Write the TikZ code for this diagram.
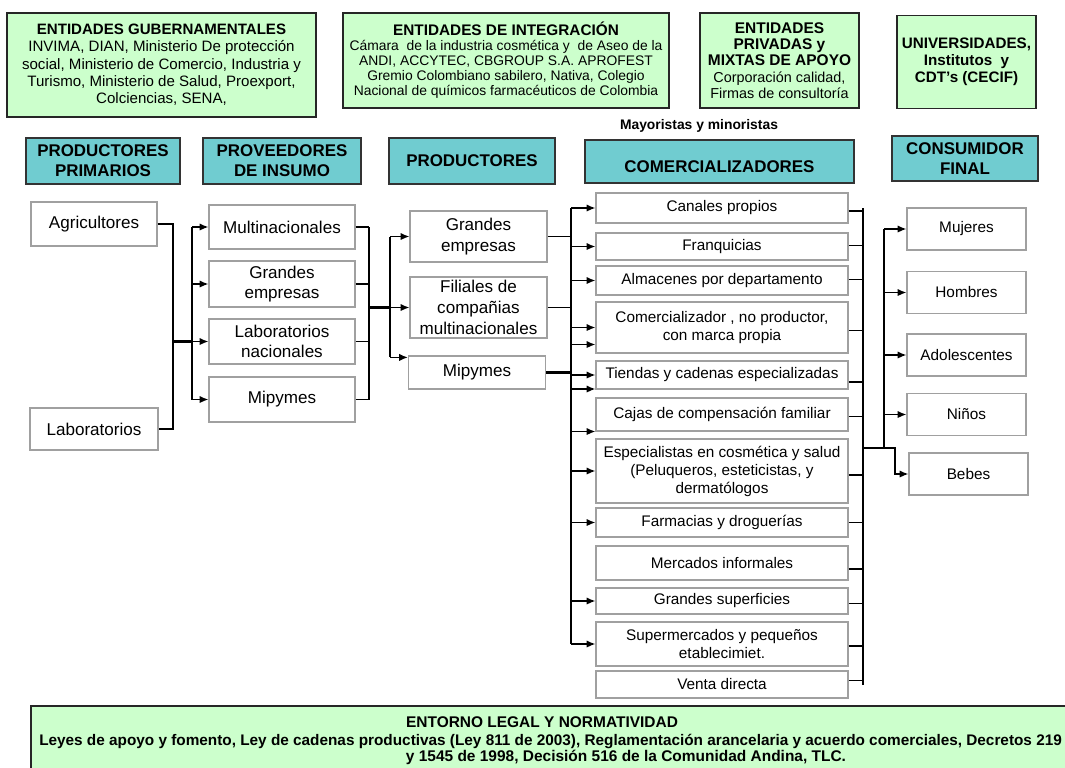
\documentclass[tikz,border=0pt]{standalone}
\usepackage{fontspec}
\setmainfont{Liberation Sans}
\usetikzlibrary{positioning,calc,arrows.meta}
\definecolor{mintgreen}{RGB}{204,255,204}
\definecolor{stagecyan}{RGB}{112,204,208}
\definecolor{boxgrey}{RGB}{160,160,160}
\tikzset{%
  every box/.style={
    draw=boxgrey,
    line width=0.9pt,
    fill=white,
    align=center,
    inner sep=0pt
  },
  boxsize/.style 2 args={
    minimum width=#1*0.75pt,
    minimum height=#2*0.75pt
  },
  entity/.style={
    every box,
    draw=black!85,
    fill=mintgreen,
    line width=1.1pt
  },
  stage/.style={
    every box,
    draw=black!80,
    fill=stagecyan,
    line width=1.5pt,
    font=\fontsize{12.7}{15}\selectfont\bfseries
  },
  actor/.style={every box, font=\fontsize{12.8}{15.5}\selectfont},
  channel/.style={every box, font=\fontsize{11.5}{13.5}\selectfont},
  link/.style={line width=1.1pt},
  thick link/.style={line width=2.2pt},
}

\begin{document}
\begin{tikzpicture}[x=0.75pt, y=-0.75pt, >={Latex[length=6.5pt,width=5.5pt]}]
  \useasboundingbox (0,0) rectangle (1065,768);
  \clip (0,0) rectangle (1065,768);
  \fill[white] (0,0) rectangle (1065,768);

  % entidades de apoyo
  \node[entity, boxsize={309}{104}, font=\fontsize{11.3}{13}\selectfont] (ent-1) at (161.5,65)
    {\textbf{ENTIDADES GUBERNAMENTALES}\\INVIMA, DIAN, Ministerio De protección\\social, Ministerio de Comercio, Industria y\\Turismo, Ministerio de Salud, Proexport,\\Colciencias, SENA,};
  \node[entity, boxsize={326}{95}, font=\fontsize{10.4}{11.2}\selectfont] (ent-2) at (506,60.5)
    {{\fontsize{11.5}{11.2}\selectfont\bfseries ENTIDADES DE INTEGRACIÓN}\\Cámara\ \ de la industria cosmética y\ \ de Aseo de la\\ANDI, ACCYTEC, CBGROUP S.A. APROFEST\\Gremio Colombiano sabilero, Nativa, Colegio\\Nacional de químicos farmacéuticos de Colombia};
  \node[entity, boxsize={159}{95}, font=\fontsize{10.8}{12.3}\selectfont] (ent-3) at (779.5,60.5)
    {{\fontsize{11.6}{12.3}\selectfont\bfseries ENTIDADES}\\{\fontsize{11.6}{12.3}\selectfont\bfseries PRIVADAS y}\\{\fontsize{11.6}{12.3}\selectfont\bfseries MIXTAS DE APOYO}\\Corporación calidad,\\Firmas de consultoría};
  \node[entity, boxsize={139}{93}, font=\fontsize{11.4}{12.8}\selectfont\bfseries] (ent-4) at (966.5,62)
    {UNIVERSIDADES,\\Institutos\ \ y\\CDT’s (CECIF)};

  % etapas de la cadena
  \foreach \x/\w/\y/\h/\txt [count=\i] in {103/154/161/46/{PRODUCTORES\\PRIMARIOS},
      282/158/161/46/{PROVEEDORES\\DE INSUMO}, 472/166/161/46/PRODUCTORES,
      719.5/269/161.5/43/{}, 965/146/158.5/45/{CONSUMIDOR\\FINAL}}
    \node[stage, boxsize={\w}{\h}] (head-\i) at (\x,\y) {\txt};
  \node[font=\fontsize{12.7}{15}\selectfont\bfseries] (head-4-text) at (719.5,167) {COMERCIALIZADORES};
  \node[font=\fontsize{10.4}{12}\selectfont\bfseries] (mayor) at (699,126) {Mayoristas y minoristas};

  % actores
  \node[actor, boxsize={126}{44}] (prim-1) at (94,224) {Agricultores};
  \node[actor, boxsize={128}{42}] (prim-2) at (94,429) {Laboratorios};
  \foreach \y/\h/\txt [count=\i] in {227/44/Multinacionales, 284/46/{Grandes\\empresas},
      341.5/45/{Laboratorios\\nacionales}, 399.5/45/Mipymes}
    \node[actor, boxsize={146}{\h}] (prov-\i) at (282,\y) {\txt};
  \foreach \x/\y/\h/\txt [count=\i] in {478.5/236.5/51/{Grandes\\empresas},
      478.5/307.5/61/{Filiales de\\compañias\\multinacionales}, 477/372.5/33/Mipymes}
    \node[actor, boxsize={137}{\h}] (prod-\i) at (\x,\y) {\txt};
  \foreach \y/\h/\txt [count=\i] in {208/30/Canales propios, 246.5/27/Franquicias,
      280.5/29/Almacenes por departamento,
      327.5/51/{Comercializador , no productor,\\con marca propia},
      375/28/Tiendas y cadenas especializadas, 414.5/33/Cajas de compensación familiar,
      471/64/{Especialistas en cosmética y salud\\(Peluqueros, esteticistas, y\\dermatólogos},
      522.5/29/Farmacias y droguerías, 563/34/Mercados informales,
      601/26/Grandes superficies, 644/44/{Supermercados y pequeños\\etablecimiet.},
      684.5/27/Venta directa}
    \node[channel, boxsize={252}{\h}] (com-\i) at (722,\y) {\txt};
  \foreach \y/\txt [count=\i] in {229/Mujeres, 292.5/Hombres, 355/Adolescentes, 414.5/Niños}
    \node[channel, boxsize={119}{42}] (cons-\i) at (966.5,\y) {\txt};
  \node[channel, boxsize={119}{42}] (cons-5) at (968.5,474) {Bebes};

  % buses
  \coordinate (bus1) at (173,0);
  \coordinate (bus2) at (192,0);
  \coordinate (bus3) at (369,0);
  \coordinate (bus4) at (390,0);
  \coordinate (bus5) at (571,0);
  \coordinate (bus6) at (863,0);
  \coordinate (hub) at (884,448);

  \draw[link] (prim-1.east) -| (bus1 |- prim-2) -- (prim-2.east);
  \draw[thick link] (bus1 |- prov-3) -- (bus2 |- prov-3);
  \draw[link] (bus2 |- prov-1) -- (bus2 |- prov-4);
  \foreach \i in {1,...,4}
    \draw[link, ->] (bus2 |- prov-\i) -- (prov-\i);

  \foreach \i in {1,...,4}
    \draw[link] (prov-\i.east) -- (bus3 |- prov-\i);
  \draw[link] (bus3 |- prov-1) -- (bus3 |- prov-4);
  \draw[thick link] (bus3 |- prod-2) -- (bus4 |- prod-2);
  \coordinate (p3) at ($(prod-3.north west)+(0,2)$);
  \draw[link] (bus4 |- prod-1) -- (bus4 |- p3);
  \draw[thick link] (bus4 |- prod-1.south) -- (bus4 |- prod-2);
  \foreach \i in {1,2}
    \draw[link, ->] (bus4 |- prod-\i) -- (prod-\i);
  \draw[link, ->] (bus4 |- p3) -- (p3);

  \draw[link] (prod-1.east) -- (bus5 |- prod-1);
  \draw[link] (prod-2.east) -- (bus5 |- prod-2);
  \draw[thick link] (prod-3.east) -- (bus5 |- prod-3);
  \draw[link] (bus5 |- com-1) -- (bus5 |- com-11);
  \draw[thick link] (bus5 |- com-5.north) -- (bus5 |- com-7);
  \foreach \i/\d in {1/0, 2/0, 3/0, 4/0, 4/17, 5/0, 5/14, 6/17, 7/0, 8/0, 10/0, 11/0} {
    \coordinate (tip) at ($(com-\i.west)+(0,\d)$);
    \draw[link, ->] (bus5 |- tip) -- (tip);
  }

  \foreach \i/\d/\lw in {1/3/1.1, 2/-1/1.1, 3/-1/1.1, 4/3/1.1, 5/7/1.1, 6/2/1.1, 7/4/1.1,
      8/0/1.1, 9/6/1.1, 10/2/0.5, 11/2/1.1, 12/-4/1.1} {
    \coordinate (tail) at ($(com-\i.east)+(0,\d)$);
    \draw[line width=\lw pt] (tail) -- (bus6 |- tail);
  }
  \draw[link] (bus6 |- com-1) -- (bus6 |- com-12);
  \draw[thick link] (bus6 |- hub) -- (hub);
  \draw[link] (hub) -- (hub |- cons-1);
  \foreach \i in {1,...,4}
    \draw[link, ->] (hub |- cons-\i) -- (cons-\i);
  \draw[link, ->] (hub) -- ++(11,0) |- (cons-5);

  % entorno legal
  \node[entity, boxsize={1190}{66}] (legal) at (626,739) {};
  \node[font=\fontsize{11.6}{13}\selectfont\bfseries] (legal-title) at (542,722) {ENTORNO LEGAL Y NORMATIVIDAD};
  \node[font=\fontsize{11.5}{13}\selectfont\bfseries, anchor=west, inner sep=0pt] (legal-1) at (39,741)
    {Leyes de apoyo y fomento, Ley de cadenas productivas (Ley 811 de 2003), Reglamentación arancelaria y acuerdo comerciales, Decretos 219};
  \node[font=\fontsize{11.6}{13}\selectfont\bfseries] (legal-2) at (626,757) {y 1545 de 1998, Decisión 516 de la Comunidad Andina, TLC.};
\end{tikzpicture}
\end{document}
